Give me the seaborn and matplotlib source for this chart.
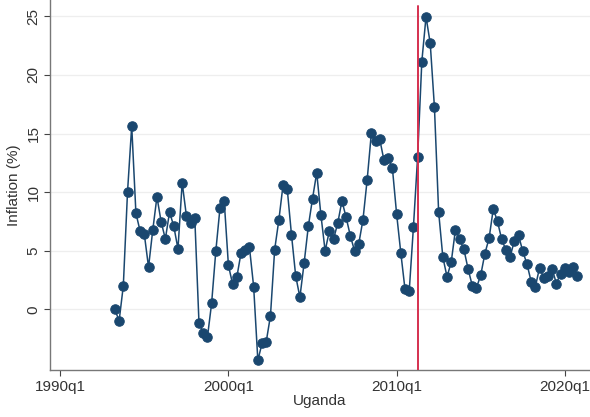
import numpy as np
import pandas as pd
import matplotlib
matplotlib.use("Agg")
import matplotlib.pyplot as plt
import seaborn as sns

# ---- data ----
start_quarter = "1993Q2"
inflation = [
    0.0, -1.0, 2.0, 10.0, 15.65, 8.2, 6.67, 6.4, 3.6, 6.75,
    9.6, 7.47, 6.0, 8.3, 7.1, 5.16, 10.8, 8.0, 7.35, 7.8,
    -1.17, -2.0, -2.4, 0.5, 4.96, 8.67, 9.24, 3.76, 2.14, 2.74,
    4.82, 5.05, 5.3, 1.94, -4.36, -2.9, -2.75, -0.55, 5.1, 7.64,
    10.63, 10.23, 6.36, 2.85, 1.03, 3.93, 7.07, 9.44, 11.66, 8.04,
    4.99, 6.67, 5.99, 7.35, 9.26, 7.84, 6.27, 4.99, 5.59, 7.64,
    11.06, 15.05, 14.37, 14.5, 12.71, 12.9, 12.06, 8.15, 4.82, 1.71,
    1.54, 7.0, 13.0, 21.15, 24.97, 22.7, 17.25, 8.3, 4.45, 2.77,
    4.05, 6.81, 5.99, 5.13, 3.45, 2.02, 1.85, 2.9, 4.76, 6.07,
    8.58, 7.5, 5.96, 5.07, 4.48, 5.84, 6.33, 4.96, 3.88, 2.37,
    1.91, 3.56, 2.7, 2.88, 3.45, 2.2, 3.05, 3.5, 3.19, 3.62,
    2.88,
]
tick_labels = ["1990q1", "2000q1", "2010q1", "2020q1"]
event_quarter = "2011Q2"
y_ticks = [0, 5, 10, 15, 20, 25]

periods = pd.period_range(start_quarter, periods=len(inflation), freq="Q")
df = pd.DataFrame({
    "t": periods.year + (periods.quarter - 1) / 4.0,
    "inflation": inflation,
})

def q_to_num(label):
    p = pd.Period(label.upper(), freq="Q")
    return p.year + (p.quarter - 1) / 4.0

tick_pos = [q_to_num(l) for l in tick_labels]
event_pos = q_to_num(event_quarter)

# ---- style ----
sns.set_style("white")
plt.rcParams["font.family"] = ["Liberation Sans", "DejaVu Sans"]

navy = "#1a476f"
fig = plt.figure(figsize=(5.9, 4.17), dpi=100)
ax = fig.add_axes([0.085, 0.113, 0.915, 0.887])

for y in y_ticks:
    ax.axhline(y, color="#eeeeee", lw=0.9, zorder=0)

sns.lineplot(data=df, x="t", y="inflation", ax=ax, color=navy, lw=1.1,
             marker="o", markersize=6.8, markeredgecolor=navy,
             markerfacecolor=navy, zorder=3)

ax.axvline(event_pos, ymin=0, ymax=0.985, color="#d5304f", lw=1.4, zorder=4)

ax.set_xlim(1989.4, 2021.5)
ax.set_ylim(-5.17, 26.4)
ax.set_xticks(tick_pos)
ax.set_xticklabels(tick_labels)
ax.set_yticks(y_ticks)
ax.set_yticklabels([str(v) for v in y_ticks], rotation=90, va="center")

ax.tick_params(axis="both", labelsize=11, labelcolor="#333333", direction="out",
               length=4, width=0.8, color="#444444", bottom=True, left=True)
ax.tick_params(axis="y", pad=3)
ax.tick_params(axis="x", pad=3)

for side in ["top", "right"]:
    ax.spines[side].set_visible(False)
for side in ["left", "bottom"]:
    ax.spines[side].set_color("#777777")
    ax.spines[side].set_linewidth(1.0)

ax.set_xlabel("Uganda", fontsize=11, color="#333333", labelpad=0)
ax.set_ylabel("Inflation (%)", fontsize=11, color="#333333", labelpad=4)

fig.savefig("out.png", dpi=100)
